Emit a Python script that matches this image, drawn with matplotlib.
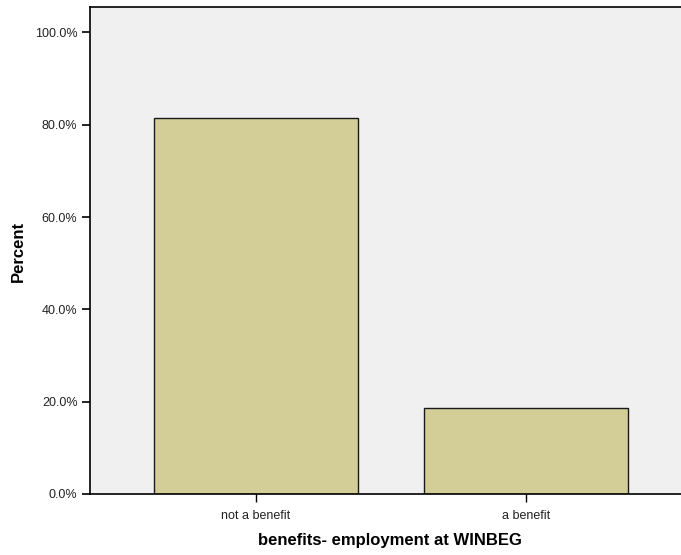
import matplotlib.pyplot as plt
from matplotlib.ticker import PercentFormatter

categorias = ['not a benefit', 'a benefit']
percentuais = [81.4, 18.6]
yticks = [0, 20, 40, 60, 80, 100]

plt.rcParams['font.family'] = ['Liberation Sans', 'DejaVu Sans']

W, H = 681, 555
fig = plt.figure(figsize=(W / 100, H / 100), dpi=100)
ax = fig.add_axes([90 / W, 61 / H, 591 / W, 487 / H])
ax.set_facecolor('#f0f0f0')

x = list(range(len(categorias)))
ax.bar(x, percentuais, width=0.754, color='#d3ce98', edgecolor='#1a1a1a', linewidth=1.0, zorder=2)

ax.set_xlim(-0.612, 1.573)
ax.set_ylim(0, 105.5)
ax.set_xticks(x)
ax.set_xticklabels(categorias, fontsize=9, color='#222222')
ax.set_yticks(yticks)
ax.yaxis.set_major_formatter(PercentFormatter(decimals=1))
ax.tick_params(axis='y', labelsize=9, length=6, width=1.2, pad=3, colors='black', labelcolor='#222222')
ax.tick_params(axis='x', length=5.5, width=1.0, pad=6)

ax.spines['right'].set_visible(False)
for s in ['left', 'bottom', 'top']:
    ax.spines[s].set_linewidth(1.2)

# rótulos dos eixos em posição de pixel
fig.text(18 / W, 1 - 251.5 / H, 'Percent', rotation=90, fontsize=12, fontweight='bold',
         ha='center', va='center')
fig.text(390 / W, 1 - 540.5 / H, 'benefits- employment at WINBEG', fontsize=12,
         fontweight='bold', ha='center', va='center')

fig.savefig('out.png', dpi=100)
